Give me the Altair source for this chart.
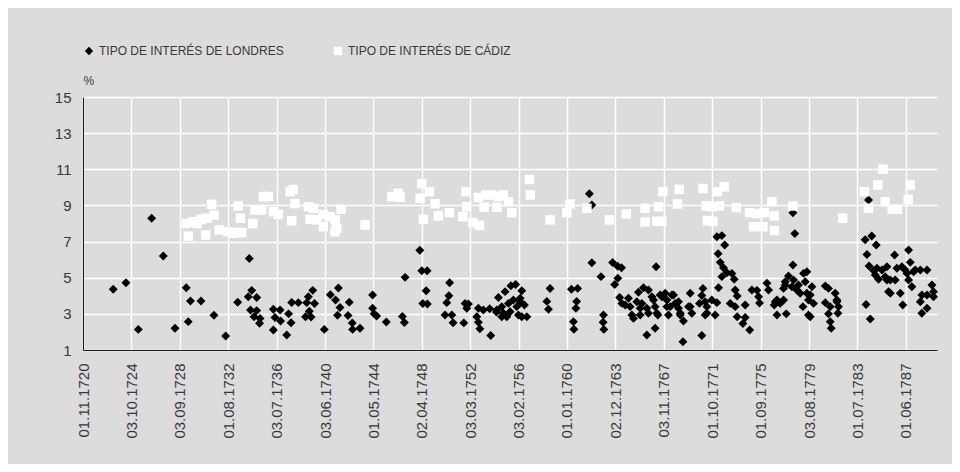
import altair as alt
import pandas as pd
from datetime import datetime, timezone

# ---------------- data ----------------
series = ["TIPO DE INTERÉS DE LONDRES", "TIPO DE INTERÉS DE CÁDIZ"]

# London: decimal year of the observation, rate in %
londres_fecha = [
    1723.28, 1724.31, 1725.31, 1726.39, 1727.33, 1728.28, 1729.19, 1729.35, 1729.53, 1730.38,
    1731.43, 1732.38, 1733.35, 1734.29, 1734.49, 1734.21, 1734.89, 1734.39, 1734.89, 1734.67,
    1735.16, 1735.12, 1736.24, 1736.78, 1736.37, 1736.82, 1736.24, 1737.32, 1737.47, 1737.67,
    1737.72, 1738.26, 1738.94, 1739.07, 1739.43, 1739.57, 1739.15, 1739.29, 1738.84, 1740.36,
    1740.85, 1741.50, 1741.27, 1741.63, 1741.43, 1742.38, 1742.28, 1742.62, 1742.65, 1743.25,
    1744.27, 1744.27, 1744.39, 1744.59, 1745.38, 1746.68, 1746.84, 1746.90, 1748.09, 1748.25,
    1748.68, 1748.60, 1748.33, 1748.70, 1750.50, 1750.44, 1750.27, 1750.13, 1750.68, 1750.78,
    1751.65, 1751.75, 1751.89, 1752.02, 1752.70, 1752.83, 1752.83, 1752.95, 1753.83, 1753.23,
    1753.74, 1754.29, 1754.32, 1754.45, 1754.72, 1754.85, 1754.72, 1754.99, 1755.13, 1755.26,
    1755.40, 1755.46, 1755.66, 1755.84, 1755.94, 1756.07, 1756.21, 1756.34, 1756.21, 1756.55,
    1756.34, 1756.75, 1758.37, 1758.50, 1758.63, 1760.36, 1760.86, 1760.78, 1760.72, 1760.52,
    1760.56, 1761.81, 1762.01, 1762.01, 1762.75, 1762.95, 1762.92, 1762.98, 1763.69, 1764.10,
    1764.41, 1764.11, 1763.86, 1764.26, 1764.44, 1764.71, 1764.97, 1765.11, 1765.25, 1765.38,
    1765.65, 1765.78, 1765.92, 1765.92, 1766.06, 1766.19, 1766.46, 1766.46, 1766.59, 1766.59,
    1766.87, 1767.00, 1767.13, 1767.13, 1767.21, 1767.27, 1767.35, 1767.54, 1767.68, 1767.94,
    1768.08, 1768.08, 1768.21, 1768.35, 1768.49, 1768.62, 1768.75, 1769.02, 1769.02, 1769.16,
    1769.16, 1769.42, 1769.38, 1769.97, 1769.83, 1769.97, 1770.10, 1770.91, 1771.00, 1770.91,
    1770.72, 1771.18, 1771.32, 1771.18, 1771.32, 1771.72, 1771.99, 1772.13, 1772.13, 1772.53,
    1772.76, 1772.23, 1772.40, 1772.66, 1772.94, 1773.34, 1772.53, 1773.53, 1772.26, 1773.61,
    1773.77, 1773.21, 1773.61, 1774.42, 1773.77, 1774.42, 1774.23, 1774.78, 1774.96, 1775.37,
    1775.51, 1775.58, 1776.18, 1776.31, 1776.85, 1776.99, 1776.77, 1777.25, 1776.99, 1777.74,
    1777.52, 1777.66, 1777.66, 1777.92, 1777.52, 1778.20, 1778.33, 1778.28, 1778.43, 1778.28,
    1778.60, 1778.73, 1778.87, 1779.14, 1779.28, 1779.41, 1779.54, 1779.09, 1779.54, 1779.82,
    1779.95, 1779.68, 1779.41, 1779.68, 1780.90, 1781.16, 1781.70, 1781.84, 1781.97, 1780.90,
    1781.16, 1781.30, 1781.38, 1781.92, 1781.84, 1781.30, 1784.13, 1784.66, 1785.02, 1784.27,
    1784.44, 1784.81, 1785.08, 1784.94, 1785.21, 1785.49, 1785.89, 1785.75, 1785.89, 1786.16,
    1786.56, 1786.51, 1786.70, 1787.10, 1787.64, 1787.78, 1787.51, 1787.37, 1788.04, 1788.18,
    1788.59, 1789.13, 1787.91, 1787.64, 1786.16, 1786.02, 1786.97, 1787.17, 1788.72, 1788.59,
    1789.13, 1789.53, 1789.66, 1789.66, 1789.13, 1788.71, 1784.20, 1784.54, 1784.40,
]
londres_tipo = [
    4.36, 4.72, 2.14, 8.29, 6.20, 2.20, 4.45, 2.57, 3.71, 3.71,
    2.92, 1.77, 3.64, 6.06, 4.30, 3.95, 3.90, 3.21, 3.18, 2.84,
    2.75, 2.48, 3.25, 3.21, 2.80, 2.60, 2.11, 1.83, 3.00, 2.51,
    3.63, 3.62, 3.62, 3.95, 4.30, 3.57, 3.15, 2.83, 2.84, 2.14,
    4.06, 4.43, 3.77, 3.35, 2.92, 3.64, 2.91, 2.50, 2.14, 2.20,
    4.04, 3.31, 3.00, 2.88, 2.55, 2.86, 2.52, 5.02, 6.52, 5.39,
    5.39, 4.28, 3.57, 3.55, 4.72, 4.00, 3.62, 2.94, 2.94, 2.51,
    2.50, 3.58, 3.31, 3.55, 2.84, 3.31, 2.53, 2.17, 1.80, 3.21,
    3.28, 3.10, 3.21, 3.90, 3.40, 3.03, 2.84, 4.23, 2.84, 3.58,
    3.12, 4.55, 3.77, 4.62, 3.40, 2.94, 3.86, 4.28, 3.67, 3.49,
    2.84, 2.84, 3.69, 3.26, 4.40, 4.36, 4.41, 3.69, 3.31, 2.57,
    2.15, 9.65, 9.02, 5.83, 5.06, 2.94, 2.54, 2.14, 5.84, 5.63,
    5.55, 4.97, 4.62, 3.90, 3.58, 3.49, 3.86, 3.40, 2.94, 2.75,
    3.67, 4.20, 2.94, 3.31, 3.58, 4.45, 1.83, 3.31, 4.32, 3.03,
    3.95, 3.77, 3.40, 2.20, 5.61, 3.03, 2.94, 4.04, 3.95, 4.14,
    3.77, 3.40, 2.94, 3.40, 4.04, 4.04, 3.58, 3.67, 3.31, 2.94,
    3.03, 2.60, 1.46, 4.14, 3.40, 3.40, 3.03, 1.80, 4.41, 4.02,
    3.58, 3.67, 3.40, 2.94, 3.03, 3.77, 2.94, 3.62, 7.27, 7.33,
    6.81, 6.33, 5.85, 5.55, 5.28, 5.24, 5.06, 4.92, 4.45, 4.32,
    3.99, 3.58, 3.40, 3.49, 2.84, 2.80, 2.46, 2.11, 4.32, 4.30,
    3.95, 3.60, 4.70, 4.32, 3.67, 3.77, 3.49, 3.58, 2.94, 3.00,
    3.77, 4.60, 4.78, 5.10, 4.41, 4.50, 4.87, 8.60, 7.44, 5.70,
    4.32, 4.60, 4.14, 5.24, 4.78, 4.14, 3.77, 3.40, 2.94, 4.50,
    3.58, 2.84, 5.33, 4.04, 4.54, 4.41, 4.14, 3.77, 3.40, 3.62,
    3.00, 2.57, 2.20, 3.03, 3.67, 3.40, 7.10, 7.31, 6.81, 6.28,
    5.65, 5.40, 5.52, 5.15, 4.92, 5.43, 5.61, 5.06, 4.87, 4.87,
    4.87, 6.26, 5.52, 5.61, 6.53, 5.85, 5.24, 5.43, 5.33, 5.43,
    5.43, 5.43, 4.50, 4.87, 4.14, 4.23, 4.14, 3.49, 4.04, 3.67,
    4.04, 4.60, 4.23, 3.95, 3.31, 3.03, 3.52, 2.72, 9.30,
]

# Cádiz: decimal year of the observation, rate in %
cadiz_fecha = [
    1729.19, 1729.35, 1729.73, 1730.06, 1730.41, 1730.76, 1730.87, 1731.25, 1731.46, 1731.86,
    1732.57, 1733.00, 1733.38, 1733.68, 1733.40, 1733.58, 1734.57, 1734.75, 1735.30, 1735.43,
    1735.83, 1736.24, 1736.64, 1737.59, 1737.85, 1737.99, 1737.72, 1739.07, 1739.47, 1739.21,
    1739.75, 1740.28, 1740.28, 1740.83, 1741.23, 1741.23, 1741.37, 1741.72, 1743.66, 1745.82,
    1746.35, 1746.49, 1748.25, 1748.11, 1748.86, 1749.32, 1748.38, 1749.59, 1750.48, 1751.83,
    1751.89, 1751.57, 1752.38, 1752.91, 1752.83, 1753.29, 1753.43, 1753.91, 1754.32, 1754.45,
    1754.85, 1755.26, 1755.53, 1756.96, 1757.02, 1758.63, 1759.99, 1760.25, 1761.61, 1763.43,
    1764.79, 1766.32, 1766.32, 1767.27, 1767.68, 1767.40, 1767.76, 1768.94, 1769.08, 1771.00,
    1771.26, 1771.37, 1771.80, 1771.72, 1772.18, 1772.34, 1772.72, 1773.69, 1774.77, 1775.09,
    1775.37, 1775.85, 1775.96, 1776.58, 1776.77, 1776.79, 1778.28, 1782.31, 1784.07, 1784.40,
    1785.15, 1785.57, 1785.75, 1786.32, 1786.74, 1787.61, 1787.78,
]
cadiz_tipo = [
    8.00, 7.30, 8.10, 8.00, 8.23, 7.36, 8.30, 9.06, 8.47, 7.64,
    7.55, 7.46, 7.50, 7.50, 8.97, 8.29, 8.00, 8.75, 8.75, 9.49,
    9.49, 8.65, 8.50, 9.76, 9.88, 9.10, 8.15, 8.93, 8.84, 8.23,
    8.20, 8.50, 7.82, 8.38, 8.20, 7.55, 7.73, 8.79, 7.92, 9.49,
    9.67, 9.45, 10.20, 9.39, 9.76, 9.10, 8.23, 8.42, 8.60, 9.76,
    8.93, 8.38, 8.05, 7.90, 9.44, 8.90, 9.58, 9.58, 8.90, 9.49,
    9.58, 9.20, 8.60, 10.44, 9.58, 8.20, 8.60, 9.08, 8.84, 8.20,
    8.53, 8.84, 8.08, 8.12, 8.12, 8.93, 9.76, 9.08, 9.89, 9.94,
    8.97, 8.16, 8.12, 8.93, 9.76, 8.97, 10.03, 8.88, 8.60, 7.82,
    8.55, 7.82, 8.60, 9.20, 8.42, 7.61, 8.97, 8.29, 9.76, 8.84,
    10.13, 11.00, 9.20, 8.79, 8.79, 9.34, 10.13,
]

tick_dates = [
    "1720-11-01", "1724-10-03", "1728-09-03", "1732-08-01", "1736-07-03", "1740-06-03",
    "1744-05-01", "1748-04-02", "1752-03-03", "1756-02-03", "1760-01-01", "1763-12-02",
    "1767-11-03", "1771-10-01", "1775-09-01", "1779-08-03", "1783-07-01", "1787-06-01",
]
x_domain = ["1720-11-01", "1789-12-10"]
y_ticks = [1, 3, 5, 7, 9, 11, 13, 15]

# ---------------- helpers ----------------
UTC = timezone.utc


def date_ms(s):
    return datetime.strptime(s, "%Y-%m-%d").replace(tzinfo=UTC).timestamp() * 1000


def year_ms(y):
    yi = int(y)
    a = datetime(yi, 1, 1, tzinfo=UTC)
    b = datetime(yi + 1, 1, 1, tzinfo=UTC)
    return (a + (b - a) * (y - yi)).timestamp() * 1000


df = pd.DataFrame(
    {
        "fecha": [year_ms(v) for v in londres_fecha] + [year_ms(v) for v in cadiz_fecha],
        "tipo": londres_tipo + cadiz_tipo,
        "serie": [series[0]] * len(londres_fecha) + [series[1]] * len(cadiz_fecha),
    }
)

FONT = "Liberation Sans"
TXT = "#383838"

x_enc = alt.X(
    "fecha:T",
    scale=alt.Scale(type="utc", domain=[date_ms(x_domain[0]), date_ms(x_domain[1])]),
    axis=alt.Axis(
        values=[date_ms(d) for d in tick_dates],
        labelExpr="utcFormat(datum.value, '%d.%m.%Y')",
        labelAngle=270,
        labelPadding=13,
        labelFont=FONT,
        labelFontSize=15,
        labelColor=TXT,
        ticks=False,
        title=None,
        grid=True,
        gridColor="#ffffff",
        gridWidth=1.5,
        domainColor="#1a1a1a",
        domainWidth=1,
        labelOverlap=False,
    ),
)
y_enc = alt.Y(
    "tipo:Q",
    scale=alt.Scale(domain=[1, 15], nice=False, zero=False),
    axis=alt.Axis(
        values=y_ticks,
        labelPadding=12,
        labelFont=FONT,
        labelFontSize=15,
        labelColor=TXT,
        ticks=False,
        title="%",
        titleAngle=0,
        titleX=0,
        titleY=-13,
        titleAlign="left",
        titleBaseline="alphabetic",
        titleFont=FONT,
        titleFontSize=12,
        titleFontWeight="normal",
        titleColor=TXT,
        grid=True,
        gridColor="#ffffff",
        gridWidth=1.5,
        domainColor="#1a1a1a",
        domainWidth=1,
    ),
)

legend = alt.Legend(
    title=None,
    orient="none",
    direction="horizontal",
    legendX=0,
    legendY=-52,
    symbolSize=70,
    symbolStrokeWidth=0,
    labelFont=FONT,
    labelFontSize=12,
    labelColor=TXT,
    labelOffset=4,
    labelLimit=400,
    columnPadding=48,
)

color_enc = alt.Color(
    "serie:N", scale=alt.Scale(domain=series, range=["#000000", "#ffffff"]), legend=legend
)
shape_enc = alt.Shape(
    "serie:N", scale=alt.Scale(domain=series, range=["diamond", "square"]), legend=legend
)

base = alt.Chart(df).encode(x=x_enc, y=y_enc, color=color_enc, shape=shape_enc)

londres = base.transform_filter(alt.datum.serie == series[0]).mark_point(
    filled=True, size=80, opacity=1, strokeWidth=0
)
cadiz = base.transform_filter(alt.datum.serie == series[1]).mark_point(
    filled=True, size=90, opacity=1, strokeWidth=0
)

chart = (
    alt.layer(londres, cadiz)
    .properties(
        width=854,
        height=253,
        background="#dcdcdc",
        autosize=alt.AutoSizeParams(type="none"),
        padding={"left": 75, "top": 89, "right": 15, "bottom": 114},
    )
    .configure_view(strokeWidth=0)
)

chart.save("out.html", embed_options={"renderer": "svg", "actions": False})
